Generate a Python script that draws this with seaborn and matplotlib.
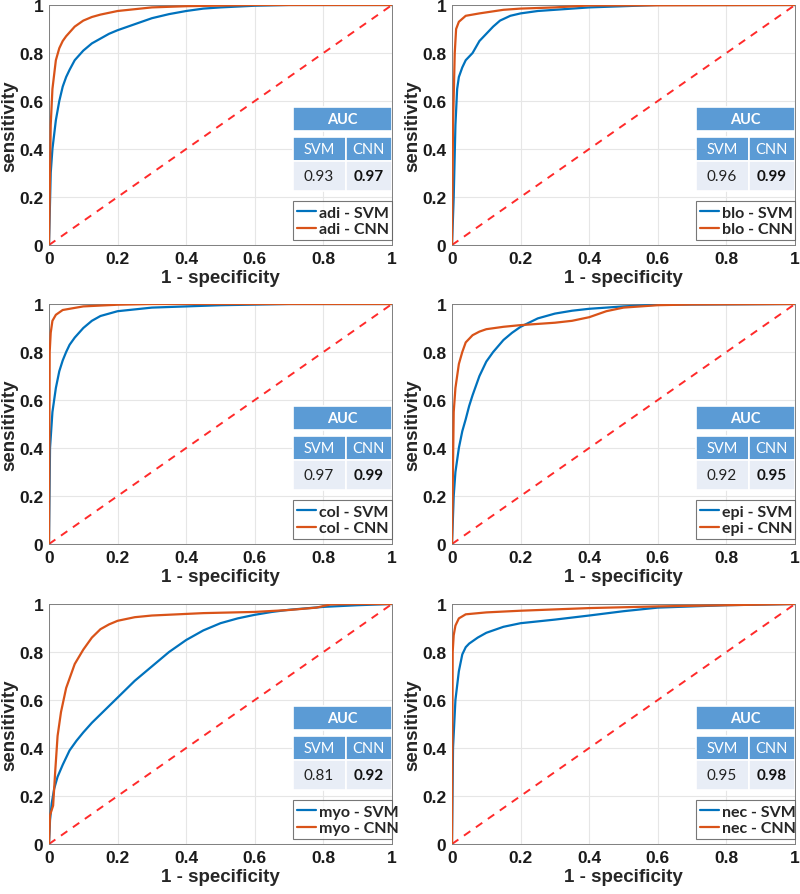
import numpy as np
import pandas as pd
import matplotlib
matplotlib.use("Agg")
import matplotlib.pyplot as plt
import seaborn as sns
from matplotlib.patches import Rectangle

# ---------------- data ----------------
classes = ["adi", "blo", "col", "epi", "myo", "nec"]
auc_svm = ["0.93", "0.96", "0.97", "0.92", "0.81", "0.95"]
auc_cnn = ["0.97", "0.99", "0.99", "0.95", "0.92", "0.98"]

adi_svm_fpr = [0, 0.005, 0.01, 0.02, 0.03, 0.04, 0.05, 0.06, 0.075, 0.1, 0.125, 0.15, 0.175, 0.2, 0.25, 0.3, 0.35, 0.4, 0.45, 0.5, 0.6, 0.7, 1.0]
adi_svm_tpr = [0, 0.30, 0.40, 0.52, 0.60, 0.66, 0.70, 0.73, 0.77, 0.81, 0.84, 0.86, 0.88, 0.895, 0.92, 0.945, 0.962, 0.975, 0.985, 0.99, 0.997, 1.0, 1.0]
adi_cnn_fpr = [0, 0.005, 0.01, 0.02, 0.03, 0.04, 0.05, 0.075, 0.1, 0.125, 0.15, 0.2, 0.3, 0.4, 0.6, 1.0]
adi_cnn_tpr = [0, 0.50, 0.65, 0.77, 0.82, 0.85, 0.87, 0.91, 0.935, 0.95, 0.96, 0.975, 0.99, 0.995, 1.0, 1.0]

blo_svm_fpr = [0, 0.005, 0.01, 0.015, 0.02, 0.03, 0.04, 0.06, 0.08, 0.1, 0.12, 0.14, 0.17, 0.2, 0.25, 0.3, 0.4, 0.5, 0.6, 1.0]
blo_svm_tpr = [0, 0.20, 0.50, 0.65, 0.70, 0.74, 0.77, 0.80, 0.85, 0.88, 0.91, 0.935, 0.955, 0.965, 0.975, 0.98, 0.99, 0.995, 1.0, 1.0]
blo_cnn_fpr = [0, 0.003, 0.008, 0.012, 0.02, 0.04, 0.08, 0.15, 0.2, 0.3, 0.4, 1.0]
blo_cnn_tpr = [0, 0.50, 0.80, 0.90, 0.93, 0.955, 0.965, 0.98, 0.985, 0.99, 0.998, 1.0]

col_svm_fpr = [0, 0.003, 0.01, 0.02, 0.03, 0.04, 0.05, 0.06, 0.075, 0.1, 0.125, 0.15, 0.2, 0.3, 0.4, 0.5, 0.7, 1.0]
col_svm_tpr = [0, 0.40, 0.55, 0.65, 0.72, 0.765, 0.80, 0.83, 0.86, 0.90, 0.93, 0.95, 0.97, 0.985, 0.99, 0.995, 1.0, 1.0]
col_cnn_fpr = [0, 0.002, 0.005, 0.01, 0.02, 0.04, 0.06, 0.1, 0.2, 0.3, 1.0]
col_cnn_tpr = [0, 0.80, 0.88, 0.93, 0.955, 0.975, 0.98, 0.99, 0.997, 1.0, 1.0]

epi_svm_fpr = [0, 0.005, 0.01, 0.02, 0.03, 0.04, 0.05, 0.06, 0.08, 0.1, 0.12, 0.15, 0.175, 0.2, 0.25, 0.3, 0.35, 0.4, 0.5, 0.6, 1.0]
epi_svm_tpr = [0, 0.20, 0.30, 0.40, 0.47, 0.52, 0.575, 0.62, 0.70, 0.76, 0.80, 0.85, 0.88, 0.905, 0.94, 0.96, 0.972, 0.98, 0.99, 0.997, 1.0]
epi_cnn_fpr = [0, 0.005, 0.01, 0.02, 0.03, 0.04, 0.06, 0.08, 0.1, 0.15, 0.2, 0.3, 0.35, 0.4, 0.45, 0.5, 0.6, 0.7, 1.0]
epi_cnn_tpr = [0, 0.55, 0.65, 0.75, 0.80, 0.84, 0.87, 0.885, 0.895, 0.905, 0.912, 0.922, 0.93, 0.945, 0.97, 0.985, 0.995, 0.998, 1.0]

myo_svm_fpr = [0, 0.003, 0.008, 0.015, 0.025, 0.04, 0.06, 0.08, 0.1, 0.125, 0.15, 0.175, 0.2, 0.225, 0.25, 0.275, 0.3, 0.325, 0.35, 0.375, 0.4, 0.45, 0.5, 0.55, 0.6, 0.65, 0.7, 0.8, 0.9, 1.0]
myo_svm_tpr = [0, 0.10, 0.17, 0.23, 0.28, 0.33, 0.39, 0.43, 0.465, 0.505, 0.54, 0.575, 0.61, 0.645, 0.68, 0.71, 0.74, 0.77, 0.80, 0.825, 0.85, 0.89, 0.92, 0.94, 0.955, 0.967, 0.976, 0.988, 0.995, 1.0]
myo_cnn_fpr = [0, 0.003, 0.012, 0.018, 0.025, 0.035, 0.05, 0.075, 0.1, 0.125, 0.15, 0.175, 0.2, 0.25, 0.3, 0.45, 0.6, 0.7, 0.78, 0.82, 0.9, 1.0]
myo_cnn_tpr = [0, 0.12, 0.16, 0.30, 0.45, 0.55, 0.65, 0.75, 0.81, 0.86, 0.895, 0.915, 0.93, 0.945, 0.952, 0.962, 0.967, 0.975, 0.985, 0.998, 1.0, 1.0]

nec_svm_fpr = [0, 0.003, 0.01, 0.02, 0.03, 0.04, 0.05, 0.075, 0.1, 0.15, 0.2, 0.3, 0.4, 0.5, 0.6, 0.8, 1.0]
nec_svm_tpr = [0, 0.40, 0.60, 0.72, 0.79, 0.82, 0.835, 0.86, 0.88, 0.905, 0.92, 0.935, 0.952, 0.97, 0.985, 0.995, 1.0]
nec_cnn_fpr = [0, 0.002, 0.005, 0.01, 0.02, 0.04, 0.1, 0.2, 0.4, 0.6, 0.8, 1.0]
nec_cnn_tpr = [0, 0.80, 0.87, 0.91, 0.94, 0.957, 0.965, 0.972, 0.983, 0.99, 0.995, 1.0]

curves = {
    "adi": ((adi_svm_fpr, adi_svm_tpr), (adi_cnn_fpr, adi_cnn_tpr)),
    "blo": ((blo_svm_fpr, blo_svm_tpr), (blo_cnn_fpr, blo_cnn_tpr)),
    "col": ((col_svm_fpr, col_svm_tpr), (col_cnn_fpr, col_cnn_tpr)),
    "epi": ((epi_svm_fpr, epi_svm_tpr), (epi_cnn_fpr, epi_cnn_tpr)),
    "myo": ((myo_svm_fpr, myo_svm_tpr), (myo_cnn_fpr, myo_cnn_tpr)),
    "nec": ((nec_svm_fpr, nec_svm_tpr), (nec_cnn_fpr, nec_cnn_tpr)),
}
ticks = [0, 0.2, 0.4, 0.6, 0.8, 1]
tick_labels = ["0", "0.2", "0.4", "0.6", "0.8", "1"]

# ---------------- style ----------------
sns.set_theme(style="white")
plt.rcParams["font.family"] = ["Liberation Sans", "DejaVu Sans"]
BLUE = "#0072BD"
ORANGE = "#D95319"
HEAD = "#5B9BD5"
LIGHT = "#E8EDF6"
TFONT = ["Lato", "DejaVu Sans"]

fig = plt.figure(figsize=(8, 8.95), dpi=100)
W, H = 800, 895
lefts = [49, 452]
tops = [6, 305, 605]
aw, ah = 343, 240

for i, cls in enumerate(classes):
    r, c = divmod(i, 2)
    l = lefts[c]
    t = tops[r]
    ax = fig.add_axes([l / W, 1 - (t + ah) / H, aw / W, ah / H])
    (sf, st), (cf, ct) = curves[cls]
    df = pd.concat([
        pd.DataFrame({"fpr": sf, "tpr": st, "model": f"{cls} - SVM"}),
        pd.DataFrame({"fpr": cf, "tpr": ct, "model": f"{cls} - CNN"}),
    ], ignore_index=True)
    ax.plot([0, 1], [0, 1], linestyle=(0, (4, 3.5)), color="#FF2A2A", lw=1.4, zorder=2)
    sns.lineplot(data=df, x="fpr", y="tpr", hue="model", sort=False, estimator=None,
                 palette=[BLUE, ORANGE], lw=1.6, ax=ax, zorder=3)
    ax.set_xlim(0, 1)
    ax.set_ylim(0, 1)
    ax.set_xticks(ticks)
    ax.set_yticks(ticks)
    ax.set_xticklabels(tick_labels)
    ax.set_yticklabels(tick_labels)
    ax.tick_params(direction="in", length=3, width=0.6, labelsize=12.5, pad=4,
                   colors="#262626")
    for lab in ax.get_xticklabels() + ax.get_yticklabels():
        lab.set_fontweight("bold")
        lab.set_color("#1a1a1a")
    ax.grid(True, color="#e6e6e6", lw=0.8)
    ax.set_axisbelow(True)
    for s in ax.spines.values():
        s.set_visible(True)
        s.set_color("#7f7f7f")
        s.set_linewidth(0.7)
    ax.set_xlabel("1 - specificity", fontsize=13.5, fontweight="bold")
    ax.xaxis.set_label_coords(0.5, -0.1)
    ax.set_ylabel("sensitivity", fontsize=13.5, fontweight="bold")
    ax.yaxis.set_label_coords(-0.09, 0.5)

    # AUC table
    x0, xm, x1 = 0.71, 0.865, 1.0
    rows = [(0.473, 0.577), (0.349, 0.452), (0.224, 0.349)]
    tr = ax.transAxes
    ax.add_patch(Rectangle((x0, rows[0][0]), x1 - x0, rows[0][1] - rows[0][0],
                           transform=tr, facecolor=HEAD, edgecolor="white", lw=1.2, zorder=5))
    ax.text((x0 + x1) / 2, sum(rows[0]) / 2, "AUC", transform=tr, ha="center", va="center",
            color="white", fontsize=10.5, fontweight="bold", family=TFONT, zorder=6)
    for (a, b), fc in zip(rows[1:], [HEAD, LIGHT]):
        ax.add_patch(Rectangle((x0, a), xm - x0, b - a, transform=tr, facecolor=fc,
                               edgecolor="white", lw=1.2, zorder=5))
        ax.add_patch(Rectangle((xm, a), x1 - xm, b - a, transform=tr, facecolor=fc,
                               edgecolor="white", lw=1.2, zorder=5))
    ax.text((x0 + xm) / 2, sum(rows[1]) / 2, "SVM", transform=tr, ha="center", va="center",
            color="white", fontsize=10.5, family=TFONT, zorder=6)
    ax.text((xm + x1) / 2, sum(rows[1]) / 2, "CNN", transform=tr, ha="center", va="center",
            color="white", fontsize=10.5, family=TFONT, zorder=6)
    ax.text((x0 + xm) / 2, sum(rows[2]) / 2, auc_svm[i], transform=tr, ha="center",
            va="center", color="#222222", fontsize=11, family=TFONT, zorder=6)
    ax.text((xm + x1) / 2, sum(rows[2]) / 2, auc_cnn[i], transform=tr, ha="center",
            va="center", color="#111111", fontsize=11, fontweight="bold", family=TFONT, zorder=6)

    leg = ax.legend(loc="lower left", bbox_to_anchor=(0.71, 0.02, 0.29, 0.187), mode="expand",
                    frameon=True, fancybox=False, handlelength=1.2, handletextpad=0.2,
                    borderpad=0.25, labelspacing=0.15, borderaxespad=0,
                    prop={"family": TFONT, "weight": "bold", "size": 11.5})
    leg.get_frame().set_edgecolor("#555555")
    leg.get_frame().set_linewidth(0.8)
    leg.set_zorder(7)

fig.savefig("out.png", dpi=100)
